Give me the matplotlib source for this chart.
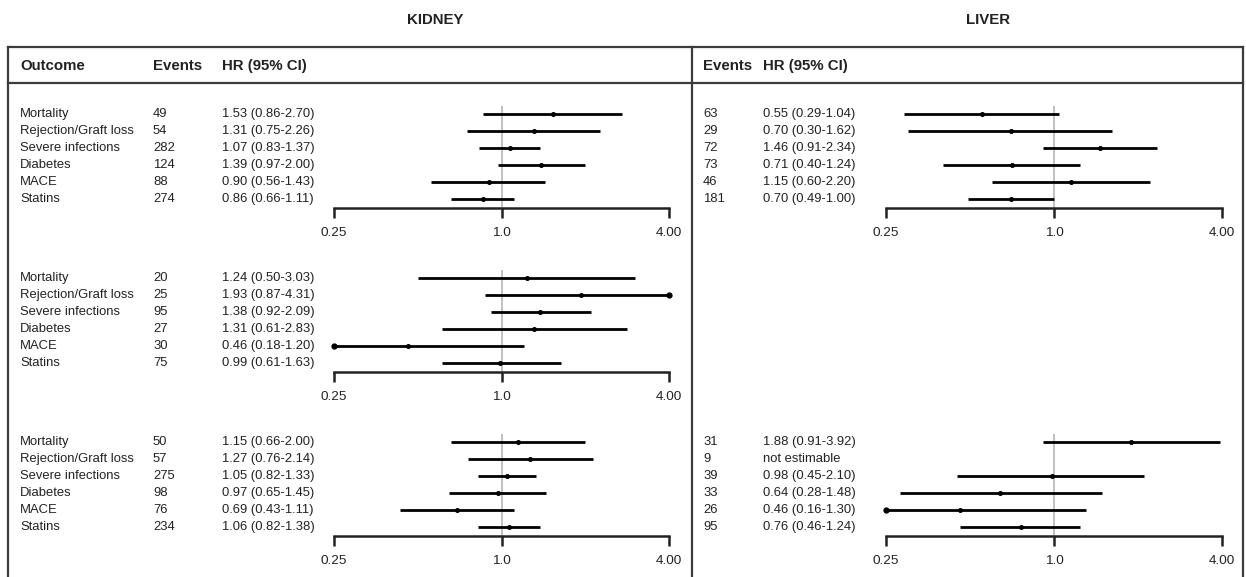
import matplotlib.pyplot as plt
from matplotlib.lines import Line2D
from matplotlib.ticker import NullLocator
from matplotlib.transforms import blended_transform_factory

plt.rcParams['font.family'] = ['Liberation Sans', 'DejaVu Sans']

outcomes = ["Mortality", "Rejection/Graft loss", "Severe infections",
            "Diabetes", "MACE", "Statins"]

# kidney, three analyses
k1_events = [49, 54, 282, 124, 88, 274]
k1_hr = [1.53, 1.31, 1.07, 1.39, 0.90, 0.86]
k1_lo = [0.86, 0.75, 0.83, 0.97, 0.56, 0.66]
k1_hi = [2.70, 2.26, 1.37, 2.00, 1.43, 1.11]

k2_events = [20, 25, 95, 27, 30, 75]
k2_hr = [1.24, 1.93, 1.38, 1.31, 0.46, 0.99]
k2_lo = [0.50, 0.87, 0.92, 0.61, 0.18, 0.61]
k2_hi = [3.03, 4.31, 2.09, 2.83, 1.20, 1.63]

k3_events = [50, 57, 275, 98, 76, 234]
k3_hr = [1.15, 1.27, 1.05, 0.97, 0.69, 1.06]
k3_lo = [0.66, 0.76, 0.82, 0.65, 0.43, 0.82]
k3_hi = [2.00, 2.14, 1.33, 1.45, 1.11, 1.38]

# liver (no second analysis)
l1_events = [63, 29, 72, 73, 46, 181]
l1_hr = [0.55, 0.70, 1.46, 0.71, 1.15, 0.70]
l1_lo = [0.29, 0.30, 0.91, 0.40, 0.60, 0.49]
l1_hi = [1.04, 1.62, 2.34, 1.24, 2.20, 1.00]

l3_events = [31, 9, 39, 33, 26, 95]
l3_hr = [1.88, None, 0.98, 0.64, 0.46, 0.76]
l3_lo = [0.91, None, 0.45, 0.28, 0.16, 0.46]
l3_hi = [3.92, None, 2.10, 1.48, 1.30, 1.24]

ticks = [0.25, 1.0, 4.0]
tick_labels = ["0.25", "1.0", "4.00"]
XMIN, XMAX = 0.25, 4.0

W, H = 1246, 577
fig = plt.figure(figsize=(W / 100, H / 100), dpi=100)
fig.patch.set_facecolor('white')

edge = '#3c3c3c'
txt = '#222222'
# frame
for xs, ys in [([8, 1243], [47, 47]), ([8, 1243], [83, 83]),
               ([8, 8], [47, 580]), ([1243, 1243], [47, 580]),
               ([692, 692], [47, 580])]:
    fig.add_artist(Line2D([x / W for x in xs], [1 - y / H for y in ys],
                          color=edge, lw=1.6, transform=fig.transFigure))

fig.text(435 / W, 1 - 20 / H, "KIDNEY", ha='center', va='center',
         fontsize=10.8, fontweight='bold', color=txt)
fig.text(988 / W, 1 - 20 / H, "LIVER", ha='center', va='center',
         fontsize=10.8, fontweight='bold', color=txt)

hy = 1 - 66 / H
for x, s in [(20, "Outcome"), (153, "Events"), (222, "HR (95% CI)"),
             (703, "Events"), (763, "HR (95% CI)")]:
    fig.text(x / W, hy, s, va='center', fontsize=10.8, fontweight='bold',
             color=txt)


def forest(x0, x1, first_row, events, hr, lo, hi, names=None,
           ev_x=153, hr_x=222):
    step = 17
    top = first_row - 0.5 * step
    bot = first_row + 5.5 * step
    ax = fig.add_axes([x0 / W, 1 - bot / H, (x1 - x0) / W, (bot - top) / H])
    ax.set_xscale('log', base=2)
    ax.set_xlim(XMIN, XMAX)
    ax.set_ylim(5.5, -0.5)
    ax.patch.set_alpha(0)
    for s in ['top', 'right', 'left']:
        ax.spines[s].set_visible(False)
    ax.spines['bottom'].set_linewidth(1.8)
    ax.spines['bottom'].set_color(txt)
    ax.set_yticks([])
    ax.set_xticks(ticks)
    ax.set_xticklabels(tick_labels)
    ax.xaxis.set_minor_locator(NullLocator())
    ax.tick_params(axis='x', length=7, width=1.8, pad=7, labelsize=9.7,
                   color=txt, labelcolor=txt)
    ax.axvline(1.0, color='#b0b0b0', lw=1.1, zorder=1)

    tr = blended_transform_factory(fig.transFigure, ax.transData)
    for i in range(len(events)):
        if names is not None:
            ax.text(20 / W, i, names[i], transform=tr, va='center',
                    fontsize=9.4, color=txt)
        ax.text(ev_x / W, i, str(events[i]), transform=tr, va='center',
                fontsize=9.4, color=txt)
        if hr[i] is None:
            ax.text(hr_x / W, i, "not estimable", transform=tr, va='center',
                    fontsize=9.4, color=txt)
            continue
        ax.text(hr_x / W, i, f"{hr[i]:.2f} ({lo[i]:.2f}-{hi[i]:.2f})",
                transform=tr, va='center', fontsize=9.4, color=txt)
        a = max(lo[i], XMIN)
        b = min(hi[i], XMAX)
        ax.plot([a, b], [i, i], color='black', lw=2.0, solid_capstyle='butt',
                clip_on=False, zorder=3)
        ax.plot(hr[i], i, 'o', color='black', ms=2.6, zorder=4)
        if lo[i] < XMIN:
            ax.plot(XMIN, i, 'o', color='black', ms=3.5, clip_on=False, zorder=4)
        if hi[i] > XMAX:
            ax.plot(XMAX, i, 'o', color='black', ms=3.5, clip_on=False, zorder=4)
    return ax


forest(334, 669, 114, k1_events, k1_hr, k1_lo, k1_hi, names=outcomes)
forest(334, 669, 278, k2_events, k2_hr, k2_lo, k2_hi, names=outcomes)
forest(334, 669, 442, k3_events, k3_hr, k3_lo, k3_hi, names=outcomes)
forest(886, 1222, 114, l1_events, l1_hr, l1_lo, l1_hi, ev_x=703, hr_x=763)
forest(886, 1222, 442, l3_events, l3_hr, l3_lo, l3_hi, ev_x=703, hr_x=763)

fig.savefig("out.png", dpi=100)
